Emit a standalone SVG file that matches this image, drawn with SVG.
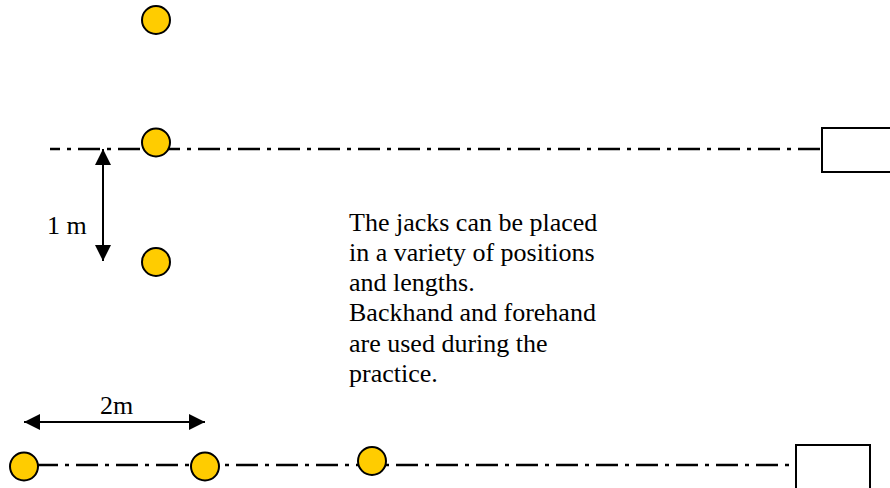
<svg xmlns="http://www.w3.org/2000/svg" width="890" height="488" viewBox="0 0 890 488">
<style>
.jack{fill:#FFCC00;stroke:#000;stroke-width:2}
.axis{stroke:#000;stroke-width:2.5;stroke-dasharray:22 7 4 7;fill:none}
.box{fill:#fff;stroke:#000;stroke-width:2}
.dim{stroke:#000;stroke-width:2;fill:none}
text{font-family:"Liberation Serif","Times New Roman",serif;font-size:26px;fill:#000}
</style>
<defs>
<marker id="ah" viewBox="0 0 16 16" refX="16" refY="8" markerWidth="16" markerHeight="16" markerUnits="userSpaceOnUse" orient="auto-start-reverse">
<path d="M0,0 L16,8 L0,16 Z" fill="#000"/>
</marker>
</defs>
<g id="connectors">
<line class="axis" x1="50" y1="149" x2="822" y2="149" stroke-dashoffset="12"/>
<line class="axis" x1="38" y1="465" x2="796" y2="465" stroke-dashoffset="2"/>
<line class="dim" x1="103" y1="261" x2="103" y2="149" marker-start="url(#ah)" marker-end="url(#ah)"/>
<line class="dim" x1="24" y1="422" x2="205" y2="422" marker-start="url(#ah)" marker-end="url(#ah)"/>
</g>
<g id="box-top"><rect class="box" x="822" y="128" width="80" height="44"/></g>
<g id="box-bottom"><rect class="box" x="796" y="445" width="74" height="50"/></g>
<g id="jack-1"><circle class="jack" cx="156" cy="20" r="14"/></g>
<g id="jack-2"><circle class="jack" cx="156" cy="142.5" r="14"/></g>
<g id="jack-3"><circle class="jack" cx="156" cy="262" r="14"/></g>
<g id="jack-4"><circle class="jack" cx="24" cy="466.5" r="14"/></g>
<g id="jack-5"><circle class="jack" cx="205" cy="466.5" r="14"/></g>
<g id="jack-6"><circle class="jack" cx="372" cy="461" r="14"/></g>
<g id="label-1m"><text x="47" y="234">1 m</text></g>
<g id="label-2m"><text x="100" y="414">2m</text></g>
<g id="note">
<text x="349" y="231">The jacks can be placed</text>
<text x="349" y="261">in a variety of positions</text>
<text x="349" y="291">and lengths.</text>
<text x="349" y="321">Backhand and forehand</text>
<text x="349" y="352">are used during the</text>
<text x="349" y="382">practice.</text>
</g>
</svg>
